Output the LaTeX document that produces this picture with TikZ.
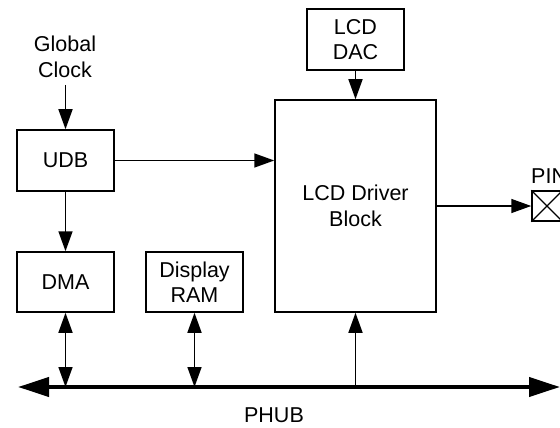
\documentclass[tikz,border=0pt]{standalone}
\usepackage{fontspec}
\setmainfont{Liberation Sans}
\usetikzlibrary{arrows.meta,calc}
\begin{document}
\begin{tikzpicture}[x=1pt,y=-1pt,
  blk/.style={draw,line width=1.5pt,inner sep=0pt,align=center,font=\fontsize{21.5}{25.5}\selectfont},
  lbl/.style={inner sep=0pt,align=center,font=\fontsize{21.5}{25.5}\selectfont},
  arr/.style={line width=1.5pt,-{Triangle[length=20pt,width=14pt]}},
  darr/.style={line width=1.5pt,{Triangle[length=20pt,width=14pt]}-{Triangle[length=20pt,width=14pt]}},
  busline/.style={line width=4pt,{Triangle[length=31pt,width=19pt]}-{Triangle[length=31pt,width=19pt]}}]
\useasboundingbox (0,0) rectangle (560,428);
% blocks
\node[blk,minimum width=97pt,minimum height=61pt] (udb) at (65.5,160.5) {UDB};
\node[blk,minimum width=97pt,minimum height=60pt] (dma) at (65.5,282) {DMA};
\node[blk,minimum width=97pt,minimum height=60pt] (ram) at (194.5,282) {Display\\RAM};
\node[blk,minimum width=161pt,minimum height=212pt] (drv) at (355.5,206) {LCD Driver\\Block};
\node[blk,minimum width=97pt,minimum height=61pt] (dac) at (355.5,39.5) {LCD\\DAC};
\node[draw,line width=1.5pt,minimum size=30pt,inner sep=0pt] (pin) at (547,206) {};
\draw[line width=1.2pt] (pin.north west) -- (pin.south east) (pin.south west) -- (pin.north east);
\node[lbl,anchor=west] (pinl) at (531,176) {PIN};
% labels
\node[lbl] (gclk) at (65,57) {Global\\Clock};
\coordinate (gclkend) at (65.5,85);
\node[lbl] (phub) at (274,415) {PHUB};
% bus
\coordinate (busL) at (18,387);
\coordinate (busR) at (560,387);
\draw[busline] (busL) -- (busR);
\coordinate (b1) at (dma.south |- busL);
\coordinate (b2) at (ram.south |- busL);
\coordinate (b3) at (drv.south |- busL);
% connectors
\draw[arr] (gclkend) -- (udb.north);
\draw[arr] (udb.south) -- (dma.north);
\draw[arr] (udb.east) -- (drv.west |- udb.east);
\draw[arr] (dac.south) -- (drv.north);
\draw[arr] (drv.east |- pin.west) -- (pin.west);
\draw[darr] (dma.south) -- (b1);
\draw[darr] (ram.south) -- (b2);
\draw[arr] (b3) -- (drv.south);
\end{tikzpicture}
\end{document}
